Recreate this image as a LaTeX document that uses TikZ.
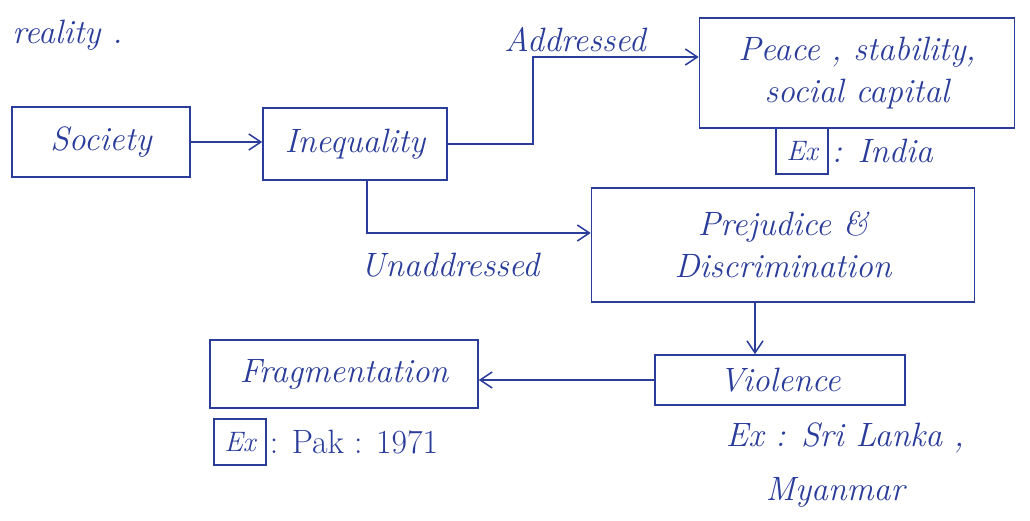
\documentclass[tikz,border=0pt]{standalone}
\usetikzlibrary{arrows.meta}
\definecolor{ink}{HTML}{2B3D9A}
\begin{document}
\begin{tikzpicture}[x=0.025cm,y=-0.025cm,
  every node/.style={text=ink,font=\fontsize{24}{30}\selectfont\itshape},
  box/.style={draw=ink,line width=1.1pt,inner sep=0pt,align=center},
  exbox/.style={draw=ink,line width=1pt,inner sep=2pt,minimum width=1.3cm,minimum height=1.15cm,font=\fontsize{20}{22}\selectfont\itshape},
  conn/.style={draw=ink,line width=1.1pt,-{Straight Barb[length=3mm,width=4mm]}}]
\useasboundingbox[fill=white] (0,0) rectangle (1030,520);
\node[anchor=west,inner sep=0pt] (reality) at (12,35) {reality .};
\node[box,minimum width=4.45cm,minimum height=1.75cm] (society) at (101,142) {Society};
\node[box,minimum width=4.6cm,minimum height=1.8cm] (ineq) at (355,144) {Inequality};
\node[box,minimum width=7.875cm,minimum height=2.75cm] (peace) at (857,73) {Peace , stability,\\social capital};
\node[box,minimum width=9.575cm,minimum height=2.85cm] (prej) at (783,245) {Prejudice \&\\Discrimination};
\node[box,minimum width=6.25cm,minimum height=1.25cm] (viol) at (780,380) {Violence};
\node[box,minimum width=6.7cm,minimum height=1.7cm] (frag) at (344,374) {Fragmentation};
\node (addr) at (575,40) {Addressed};
\node (unaddr) at (450,265) {Unaddressed};
\node[exbox] (ex1) at (802,151) {Ex};
\node[anchor=west,inner sep=2pt] (india) at (ex1.east) {: India};
\node[exbox] (ex2) at (240,442) {Ex};
\node[anchor=west,inner sep=2pt,font=\fontsize{24}{30}\selectfont] (pak) at (ex2.east) {: Pak : 1971};
\node (srilanka) at (845,438) {Ex : Sri Lanka ,};
\node (myanmar) at (835,492) {Myanmar};
\coordinate (a1) at (533,57);
\coordinate (u1) at (367,233);
\coordinate (v1) at (755,0);
\draw[conn] (society.east) -- (society.east -| ineq.west);
\draw[conn] (ineq.east) -| (a1) -- (a1 -| peace.west);
\draw[conn] (u1 |- ineq.south) -- (u1) -- (u1 -| prej.west);
\draw[conn] (v1 |- prej.south) -- (v1 |- viol.north);
\draw[conn] (viol.west) -- (frag.east |- viol.west);
\end{tikzpicture}
\end{document}
